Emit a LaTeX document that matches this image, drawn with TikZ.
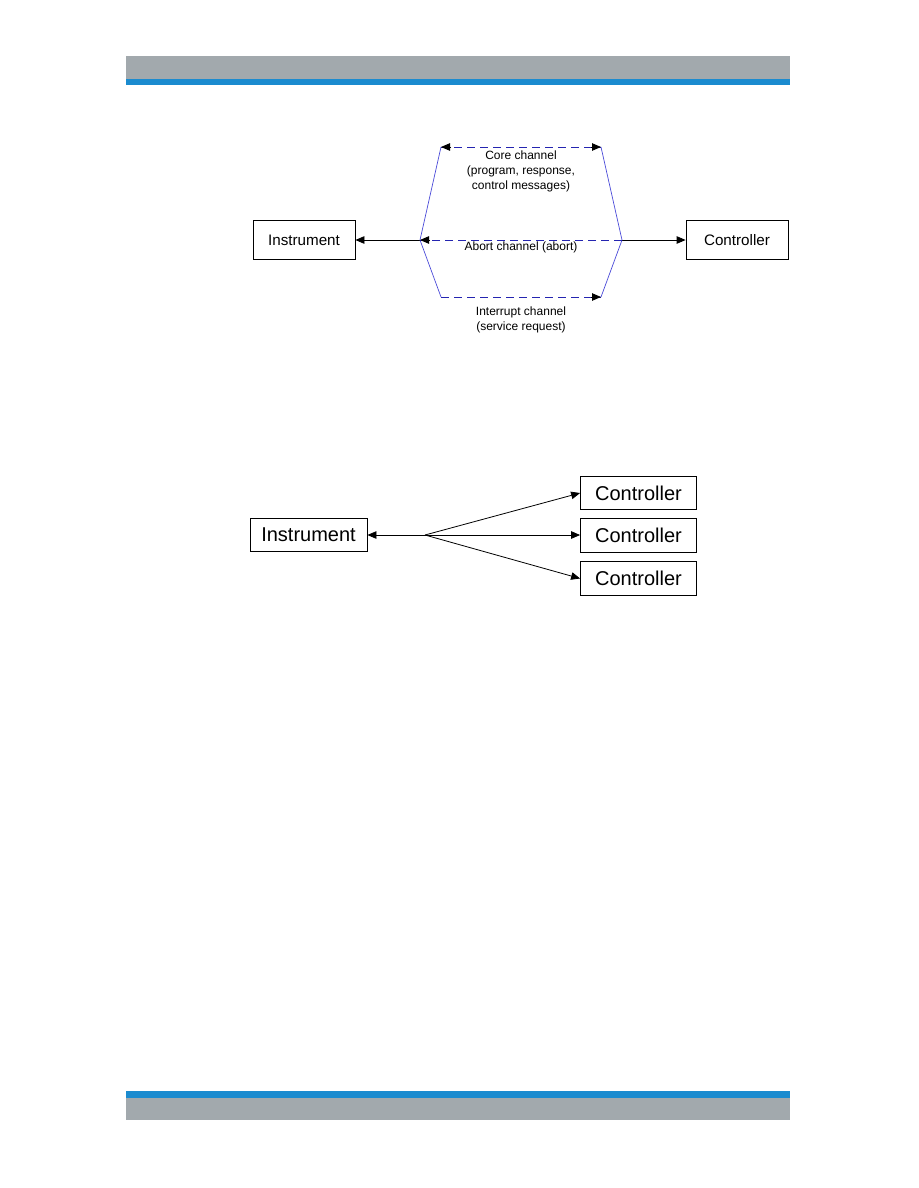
\documentclass[tikz,border=0pt]{standalone}
\usepackage{fontspec}
\setmainfont{Liberation Sans}
\usetikzlibrary{arrows.meta,calc}
\definecolor{bandgray}{HTML}{A2A9AD}
\definecolor{bandblue}{HTML}{1B8BCF}
\definecolor{hexblue}{HTML}{4A4AD8}
\definecolor{dashblue}{HTML}{2424B0}
\tikzset{
  boxA/.style={draw=black, line width=0.8pt, minimum width=102pt, minimum height=39pt, inner sep=0pt, font=\fontsize{15.2}{18}\selectfont},
  boxB/.style={draw=black, line width=0.8pt, minimum height=33.5pt, inner sep=0pt, font=\fontsize{20}{24}\selectfont},
  conn/.style={draw=black, line width=0.8pt},
  tip/.style={-{Triangle[length=9pt,width=7.5pt]}},
  hexline/.style={draw=hexblue, line width=0.7pt},
  dashline/.style={draw=dashblue, line width=0.8pt, dash pattern=on 8pt off 5pt},
  lbl/.style={align=center, inner sep=0pt, font=\fontsize{12}{15}\selectfont},
}
\begin{document}
\begin{tikzpicture}[x=1pt, y=-1pt]
\useasboundingbox (0,0) rectangle (918,1188);
% header and footer bands
\fill[bandgray] (126,56) rectangle (790,79);
\fill[bandblue] (126,79) rectangle (790,85);
\fill[bandblue] (126,1091) rectangle (790,1098);
\fill[bandgray] (126,1098) rectangle (790,1120);

% ---- diagram 1 ----
\node[boxA] (inst1) at (304,240) {Instrument};
\node[boxA] (ctrl1) at (737,240) {Controller};
\coordinate (L) at (420,240);
\coordinate (R) at (622,240);
\coordinate (TL) at (441,147);
\coordinate (TR) at (601,147);
\coordinate (BL) at (441,297);
\coordinate (BR) at (601,297);
\draw[conn,tip] (L) -- (inst1.east);
\draw[conn,tip] (R) -- (ctrl1.west);
\draw[hexline] (TL) -- (L) -- (BL);
\draw[hexline] (TR) -- (R) -- (BR);
\draw[dashline] (TL) -- (TR);
\draw[dashline] (R) -- (L);
\draw[dashline] (BL) -- (BR);
% black arrow tips on the channels
\draw[conn,tip] ($(TL)+(10,0)$) -- (TL);
\draw[conn,tip] ($(TR)+(-10,0)$) -- (TR);
\draw[conn,tip] ($(L)+(10,0)$) -- (L);
\draw[conn,tip] ($(BR)+(-10,0)$) -- (BR);
\node[lbl] (core) at (521,171) {Core channel\\(program, response,\\control messages)};
\node[lbl] (abort) at (521,247.5) {Abort channel (abort)};
\node[lbl] (intr) at (521,320) {Interrupt channel\\(service request)};

% ---- diagram 2 ----
\node[boxB, minimum width=117pt] (inst2) at (308.5,535) {Instrument};
\node[boxB, minimum width=116pt] (c1) at (638.5,493) {Controller};
\node[boxB, minimum width=116pt] (c2) at (638.5,535.5) {Controller};
\node[boxB, minimum width=116pt] (c3) at (638.5,578.5) {Controller};
\coordinate (F) at (425,535);
\draw[conn,tip] (F) -- (inst2.east);
\draw[conn,tip] (F) -- (c1.west);
\draw[conn,tip] (F) -- (c2.west |- F);
\draw[conn,tip] (F) -- (c3.west);
\end{tikzpicture}
\end{document}
